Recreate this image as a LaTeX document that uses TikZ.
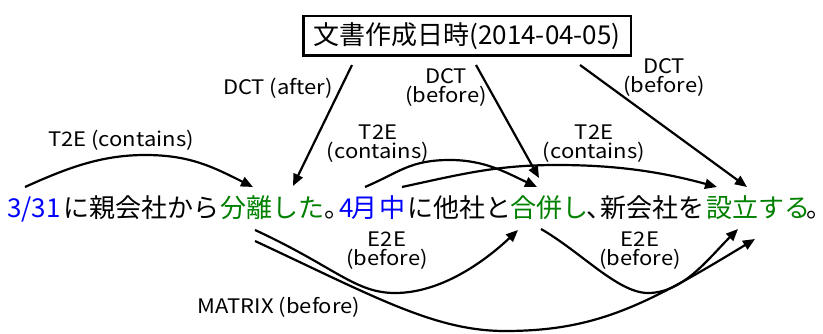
\documentclass[tikz,border=0pt]{standalone}
\usepackage{fontspec}
\setmainfont{Noto Sans CJK JP}
\newfontfamily\labfont[FakeStretch=1.1]{Noto Sans CJK JP}
\usetikzlibrary{arrows.meta}
\definecolor{tblue}{RGB}{0,0,255}
\definecolor{tgreen}{RGB}{0,128,0}
\tikzset{
  seg/.style={anchor=base west, inner sep=0pt, font=\fontsize{26}{26}\selectfont},
  lab/.style={font=\labfont\fontsize{20}{19}\selectfont, inner sep=0pt, align=center},
  conn/.style={line width=2.2pt, -{Triangle[length=12pt,width=10pt]}},
  dctbox/.style={draw, line width=2.5pt, minimum width=327.5pt, minimum height=39.5pt, inner sep=0pt, font=\fontsize{26}{26}\selectfont}
}
\begin{document}
\begin{tikzpicture}[x=1pt,y=-1pt]
\useasboundingbox (0,0) rectangle (823,334);
% document creation time box
\node[dctbox] (dct) at (467,36) {文書作成日時(2014-04-05)};
% sentence
\node[seg, text=tblue] (s1) at (7,218) {3/31};
\node[seg] (s2) at (63,218) {に親会社から};
\node[seg, text=tgreen] (s3) at (220,218) {分離した};
\node[seg] (s4) at (324,218) {。\kern-12pt};
\node[seg, text=tblue] (s5) at (339,218) {4\kern-2.5pt 月};
\node[seg, text=tblue] (s6) at (379,218) {中};
\node[seg] (s7) at (407,218) {に他社と};
\node[seg, text=tgreen] (s8) at (510,218) {合併し};
\node[seg] (s9) at (586,218) {、\kern-12pt};
\node[seg] (s10) at (600,218) {新会社を};
\node[seg, text=tgreen] (s11) at (706,218) {設立する};
\node[seg] (s12) at (806,218) {。\kern-10pt};
% labels
\node[lab] (l1) at (278,88) {DCT (after)};
\node[lab] (l2) at (446,87.5) {DCT\\(before)};
\node[lab] (l3) at (664,77.5) {DCT\\(before)};
\node[lab] (l4) at (121,140) {T2E (contains)};
\node[lab] (l5) at (378,144) {T2E\\(contains)};
\node[lab] (l6) at (594,144) {T2E\\(contains)};
\node[lab] (l7) at (387,251) {E2E\\(before)};
\node[lab] (l8) at (640,251) {E2E\\(before)};
\node[lab] (l9) at (279,307) {MATRIX (before)};
% connector end points
\coordinate (a1s) at (352,65);  \coordinate (a1e) at (293,186);
\coordinate (a2s) at (476,65);  \coordinate (a2e) at (539,178);
\coordinate (a3s) at (580,65);  \coordinate (a3e) at (747,187);
\coordinate (t1s) at (25,187);  \coordinate (t1e) at (253,187);
\coordinate (t2s) at (365,187); \coordinate (t2e) at (537,187);
\coordinate (t3s) at (402,187); \coordinate (t3e) at (717,187);
\coordinate (e1s) at (255,230); \coordinate (e1e) at (518,230);
\coordinate (ms) at (255,241);  \coordinate (me) at (755,239);
\coordinate (e2s) at (541,229); \coordinate (e2e) at (738,229);
% DCT arrows
\draw[conn] (a1s) -- (a1e);
\draw[conn] (a2s) -- (a2e);
\draw[conn] (a3s) -- (a3e);
% T2E arrows
\draw[conn] (t1s) .. controls +(40,-18) and +(-45,0) .. (145,155) .. controls +(45,0) and +(-40,-20) .. (t1e);
\draw[conn] (t2s) .. controls +(35,-15) and +(-40,0) .. (450,160) .. controls +(35,0) and +(-30,-14) .. (t2e);
\draw[conn] (t3s) .. controls +(60,-13) and +(-60,0) .. (557,165) .. controls +(60,0) and +(-55,-15) .. (t3e);
% E2E and MATRIX arrows
\draw[conn] (e1s) .. controls +(80,37) and +(-40,0) .. (395,293) .. controls +(45,0) and +(-35,33) .. (e1e);
\draw[conn] (ms) .. controls +(120,56) and +(-70,0) .. (505,331) .. controls +(90,0) and +(-110,67) .. (me);
\draw[conn] (e2s) .. controls +(40,23) and +(-30,0) .. (648,293) .. controls +(35,0) and +(-30,30) .. (e2e);
\end{tikzpicture}
\end{document}
